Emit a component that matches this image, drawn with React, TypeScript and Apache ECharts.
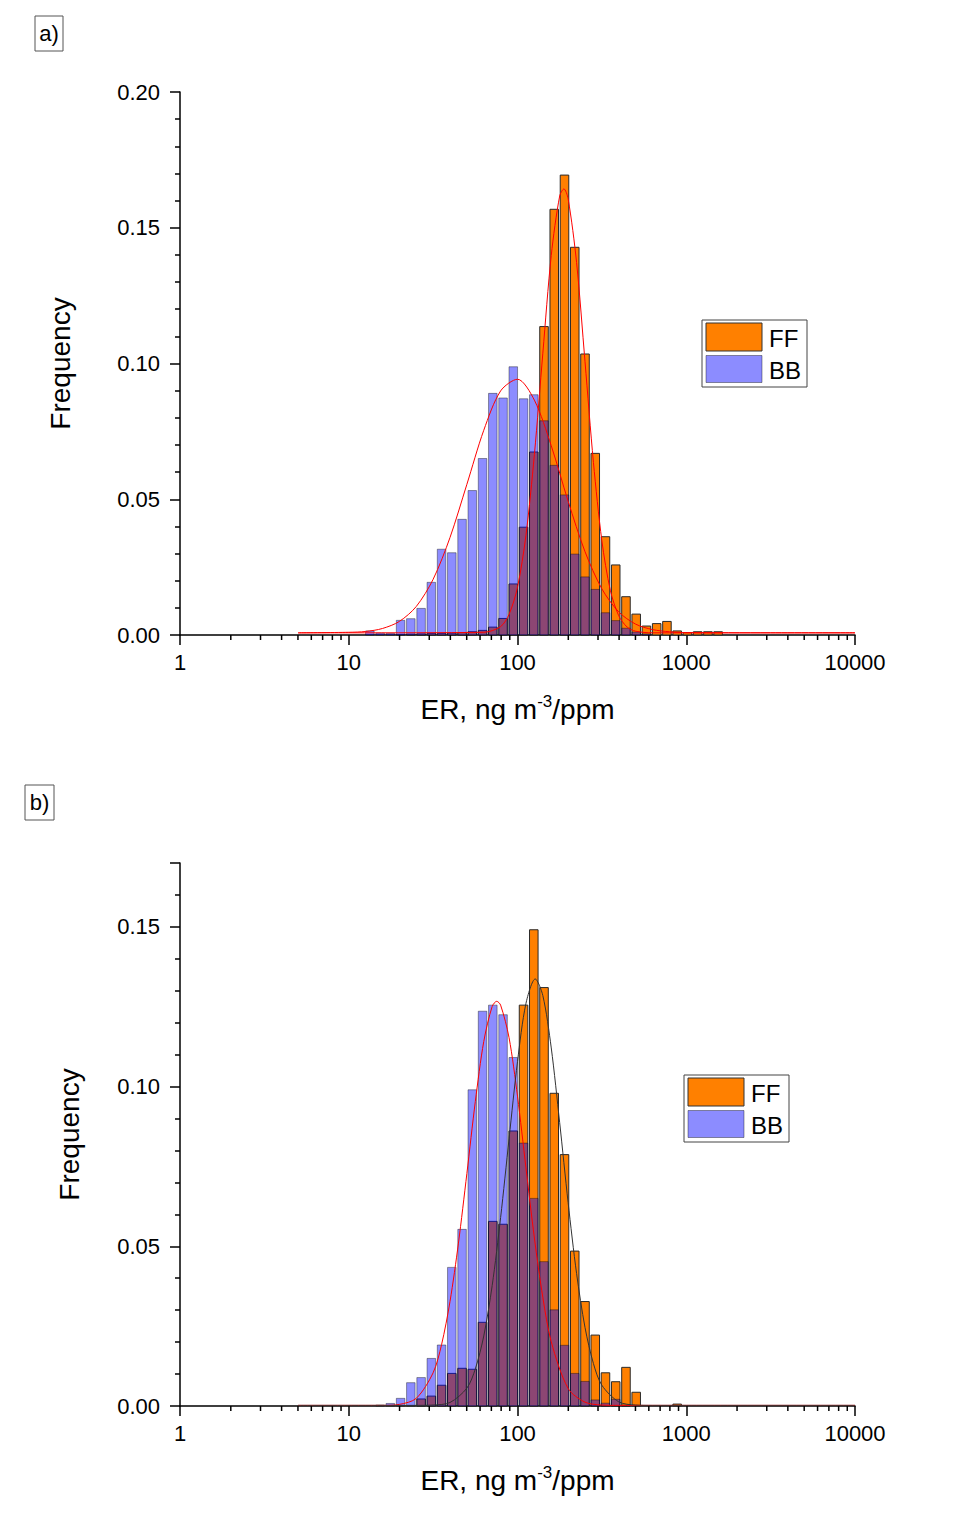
import React, { useEffect, useRef } from 'react';
import * as echarts from 'echarts';

const FONT = '"Liberation Sans", Arial, Helvetica, sans-serif';

// Histogram bin centres (ER, ng m-3/ppm), log-spaced bins
const binCenters = [13.34, 15.35, 17.64, 20.29, 23.33, 26.84, 30.86, 35.49, 40.81, 46.94, 53.98, 62.08, 71.40, 82.11, 94.41, 108.6, 124.9, 143.6, 165.1, 189.9, 218.4, 251.2, 288.9, 332.1, 382.0, 439.3, 505.1, 580.9, 668.1, 768.3, 883.6, 1016, 1168, 1344, 1545];

// Panel a) frequencies
const ffA = [0, 0, 0, 0.0002, 0.0003, 0.0004, 0.0006, 0.0006, 0.0007, 0.0009, 0.0012, 0.0017, 0.0029, 0.0061, 0.0188, 0.0397, 0.0674, 0.1136, 0.1568, 0.1694, 0.1428, 0.1035, 0.0669, 0.0362, 0.0258, 0.0141, 0.0077, 0.0033, 0.0042, 0.0050, 0.0015, 0.0009, 0.0012, 0.0012, 0.0012];
const bbA = [0.0015, 0.0007, 0.0006, 0.0054, 0.0060, 0.0098, 0.0194, 0.0316, 0.0303, 0.0426, 0.0532, 0.0650, 0.0890, 0.0873, 0.0988, 0.0870, 0.0885, 0.0789, 0.0625, 0.0516, 0.0298, 0.0214, 0.0168, 0.0082, 0.0053, 0.0025, 0.0011, 0.0004, 0, 0, 0, 0, 0, 0, 0];

// Panel b) frequencies
const ffB = [0, 0, 0, 0, 0, 0.0022, 0.0031, 0.0065, 0.0102, 0.0118, 0.0115, 0.0262, 0.0578, 0.0569, 0.0861, 0.1255, 0.1491, 0.1310, 0.0979, 0.0787, 0.0485, 0.0327, 0.0222, 0.0104, 0.0076, 0.0121, 0.0043, 0, 0, 0, 0.0006, 0, 0, 0, 0];
const bbB = [0, 0.0003, 0.0008, 0.0024, 0.0073, 0.0089, 0.0149, 0.0191, 0.0434, 0.0553, 0.0990, 0.1236, 0.1255, 0.1225, 0.1091, 0.0823, 0.0650, 0.0452, 0.0301, 0.0190, 0.0102, 0.0077, 0.0019, 0.0009, 0.0021, 0.0003, 0, 0, 0, 0, 0, 0, 0, 0, 0];

// Fitted curves
const fitBBaX = [5.012, 10, 12.59, 15.85, 19.95, 25.12, 31.62, 39.81, 50.12, 63.10, 79.43, 100, 125.9, 158.5, 199.5, 251.2, 316.2, 398.1, 501.2, 631.0, 794.3, 1000, 3162, 10000];
const fitBBaY = [0.0008, 0.0010, 0.0013, 0.0024, 0.0050, 0.0105, 0.0205, 0.0359, 0.0555, 0.0754, 0.0899, 0.0942, 0.0865, 0.0697, 0.0493, 0.0307, 0.0170, 0.0085, 0.0040, 0.0020, 0.0012, 0.0009, 0.0008, 0.0008];
const fitFFaX = [5.012, 10, 63.10, 79.43, 89.13, 100, 112.2, 125.9, 141.3, 158.5, 177.8, 188.4, 199.5, 223.9, 251.2, 281.8, 316.2, 354.8, 398.1, 446.7, 501.2, 631.0, 1000, 3162, 10000];
const fitFFaY = [0.0008, 0.0008, 0.0010, 0.0031, 0.0076, 0.0176, 0.0367, 0.0664, 0.1038, 0.1398, 0.1617, 0.1643, 0.1607, 0.1372, 0.1007, 0.0636, 0.0347, 0.0165, 0.0071, 0.0029, 0.0014, 0.0008, 0.0008, 0.0008, 0.0008];
const fitBBbX = [5.012, 10, 15.85, 19.95, 25.12, 31.62, 35.48, 39.81, 44.67, 50.12, 56.23, 63.10, 70.79, 75.34, 79.43, 89.13, 100, 112.2, 125.9, 141.3, 158.5, 199.5, 251.2, 316.2, 398.1, 1000, 10000];
const fitBBbY = [0.0002, 0.0002, 0.0002, 0.0005, 0.0024, 0.0104, 0.0192, 0.0327, 0.0510, 0.0728, 0.0953, 0.1141, 0.1251, 0.1267, 0.1255, 0.1153, 0.0970, 0.0746, 0.0526, 0.0340, 0.0201, 0.0055, 0.0012, 0.0003, 0.0002, 0.0002, 0.0002];
const fitFFbX = [5.012, 15.85, 25.12, 31.62, 39.81, 50.12, 56.23, 63.10, 70.79, 79.43, 89.13, 100, 112.2, 127.4, 141.3, 158.5, 177.8, 199.5, 223.9, 251.2, 281.8, 316.2, 398.1, 501.2, 631.0, 1000, 10000];
const fitFFbY = [0.0002, 0.0002, 0.0002, 0.0003, 0.0011, 0.0056, 0.0116, 0.0219, 0.0377, 0.0590, 0.0837, 0.1078, 0.1260, 0.1337, 0.1285, 0.1121, 0.0887, 0.0637, 0.0415, 0.0246, 0.0133, 0.0065, 0.0013, 0.0003, 0.0002, 0.0002, 0.0002];

const xTickLabels = ['1', '10', '100', '1000', '10000'];
const legendNames = ['FF', 'BB'];
const panelLabels = ['a)', 'b)'];

// styles
const FF_FILL = '#FF8000';
const FF_STROKE = '#2a2a2a';
const BB_FILL = 'rgba(0,0,255,0.45)';
const BB_STROKE = 'rgba(0,0,0,0.38)';
const BAR_HALF = 1.06; // multiplicative half-width of a bar on the log axis

const minorTickValues: number[] = [];
for (let d = 1; d < 10000; d *= 10) {
  for (let m = 2; m <= 9; m++) minorTickValues.push(m * d);
}

function barSeries(name: string, vals: number[], idx: number, fill: string, stroke: string) {
  return {
    type: 'custom',
    name,
    xAxisIndex: idx,
    yAxisIndex: idx,
    silent: true,
    encode: { x: 0, y: 1 },
    data: binCenters.map((c, i) => [c, vals[i]]),
    renderItem: (params: any, api: any) => {
      const c = api.value(0);
      const v = api.value(1);
      if (!v) return null;
      const p0 = api.coord([c / BAR_HALF, v]);
      const p1 = api.coord([c * BAR_HALF, 0]);
      return {
        type: 'rect',
        shape: { x: p0[0], y: p0[1], width: p1[0] - p0[0], height: p1[1] - p0[1] },
        style: { fill, stroke, lineWidth: 1 },
      };
    },
  };
}

function lineSeries(xs: number[], ys: number[], idx: number, color: string) {
  return {
    type: 'line',
    xAxisIndex: idx,
    yAxisIndex: idx,
    silent: true,
    symbol: 'none',
    smooth: 0.3,
    lineStyle: { color, width: 1 },
    data: xs.map((x, i) => [x, ys[i]]),
  };
}

function minorTicks(idx: number) {
  return {
    type: 'custom',
    xAxisIndex: idx,
    yAxisIndex: idx,
    silent: true,
    clip: false,
    encode: { x: 0 },
    data: minorTickValues.map((v) => [v, 0]),
    renderItem: (params: any, api: any) => {
      const p = api.coord([api.value(0), 0]);
      return {
        type: 'line',
        shape: { x1: p[0], y1: p[1], x2: p[0], y2: p[1] + 5 },
        style: { stroke: '#000', lineWidth: 1.5 },
      };
    },
  };
}

function xAxis(idx: number) {
  return {
    type: 'log',
    gridIndex: idx,
    logBase: 10,
    min: 1,
    max: 10000,
    axisLine: { lineStyle: { color: '#000', width: 1.5 } },
    axisTick: { length: 10, lineStyle: { color: '#000', width: 1.5 } },
    splitLine: { show: false },
    axisLabel: {
      margin: 16,
      fontSize: 22,
      fontFamily: FONT,
      color: '#000',
      formatter: (v: number) => {
        const i = Math.round(Math.log10(v));
        return xTickLabels[i] ?? '';
      },
    },
    name: '{a|ER, ng m}{s|-3}{a|/ppm}',
    nameLocation: 'middle',
    nameGap: 58,
    nameTextStyle: {
      rich: {
        a: { fontSize: 28, fontFamily: FONT, color: '#000', lineHeight: 32 },
        s: { fontSize: 17, fontFamily: FONT, color: '#000', verticalAlign: 'top', lineHeight: 17 },
      },
    },
  };
}

function yAxis(idx: number, max: number, gap: number) {
  return {
    type: 'value',
    gridIndex: idx,
    min: 0,
    max,
    interval: 0.05,
    axisLine: { show: true, lineStyle: { color: '#000', width: 1.5 } },
    axisTick: { show: true, length: 10, lineStyle: { color: '#000', width: 1.5 } },
    minorTick: { show: true, splitNumber: 5, length: 5, lineStyle: { color: '#000', width: 1.5 } },
    splitLine: { show: false },
    axisLabel: {
      margin: 20,
      fontSize: 22,
      fontFamily: FONT,
      color: '#000',
      formatter: (v: number) => {
        const r = v / 0.05;
        if (Math.abs(r - Math.round(r)) > 1e-6) return '';
        return v.toFixed(2);
      },
    },
    name: 'Frequency',
    nameLocation: 'middle',
    nameGap: gap,
    nameTextStyle: { fontSize: 28, fontFamily: FONT, color: '#000' },
  };
}

function legend(x: number, y: number) {
  return [
    { type: 'rect', shape: { x, y, width: 105, height: 67 }, style: { fill: '#fff', stroke: '#444', lineWidth: 1 } },
    { type: 'rect', shape: { x: x + 4, y: y + 3, width: 56, height: 28 }, style: { fill: FF_FILL, stroke: '#333', lineWidth: 1 } },
    { type: 'rect', shape: { x: x + 4, y: y + 35.5, width: 56, height: 27 }, style: { fill: BB_FILL, stroke: BB_STROKE, lineWidth: 1 } },
    { type: 'text', x: x + 67, y: y + 18, style: { text: legendNames[0], fontSize: 24, fontFamily: FONT, fill: '#000', align: 'left', verticalAlign: 'middle', textAlign: 'left', textVerticalAlign: 'middle' } },
    { type: 'text', x: x + 67, y: y + 50, style: { text: legendNames[1], fontSize: 24, fontFamily: FONT, fill: '#000', align: 'left', verticalAlign: 'middle', textAlign: 'left', textVerticalAlign: 'middle' } },
  ];
}

function panelLabel(x: number, y: number, w: number, h: number, text: string) {
  return [
    { type: 'rect', shape: { x, y, width: w, height: h }, style: { fill: '#fff', stroke: '#555', lineWidth: 1 } },
    { type: 'text', x: x + w / 2, y: y + h / 2, style: { text, fontSize: 22, fontFamily: FONT, fill: '#000', align: 'center', verticalAlign: 'middle', textAlign: 'center', textVerticalAlign: 'middle' } },
  ];
}

export default function App() {
  const ref = useRef<HTMLDivElement>(null);
  useEffect(() => {
    const chart = echarts.init(ref.current!, null, { renderer: 'svg' });
    chart.setOption({
      animation: false,
      backgroundColor: '#ffffff',
      grid: [
        { left: 180, top: 92, width: 675, height: 543 },
        { left: 180, top: 863, width: 675, height: 543 },
      ],
      xAxis: [xAxis(0), xAxis(1)],
      yAxis: [yAxis(0, 0.2, 106), yAxis(1, 0.17, 97)],
      series: [
        barSeries('FF', ffA, 0, FF_FILL, FF_STROKE),
        barSeries('BB', bbA, 0, BB_FILL, BB_STROKE),
        lineSeries(fitBBaX, fitBBaY, 0, '#ff0000'),
        lineSeries(fitFFaX, fitFFaY, 0, '#ff0000'),
        minorTicks(0),
        barSeries('FF', ffB, 1, FF_FILL, FF_STROKE),
        barSeries('BB', bbB, 1, BB_FILL, BB_STROKE),
        lineSeries(fitBBbX, fitBBbY, 1, '#ff0000'),
        lineSeries(fitFFbX, fitFFbY, 1, '#333333'),
        minorTicks(1),
      ],
      graphic: [
        ...panelLabel(35, 16, 28, 35, panelLabels[0]),
        ...panelLabel(25, 785, 29, 35, panelLabels[1]),
        ...legend(702, 320),
        ...legend(684, 1075),
      ],
    });
    return () => chart.dispose();
  }, []);
  return (
    <div
      ref={ref}
      style={{ position: 'absolute', left: 0, top: 0, width: 977, height: 1524, background: '#fff' }}
    />
  );
}
